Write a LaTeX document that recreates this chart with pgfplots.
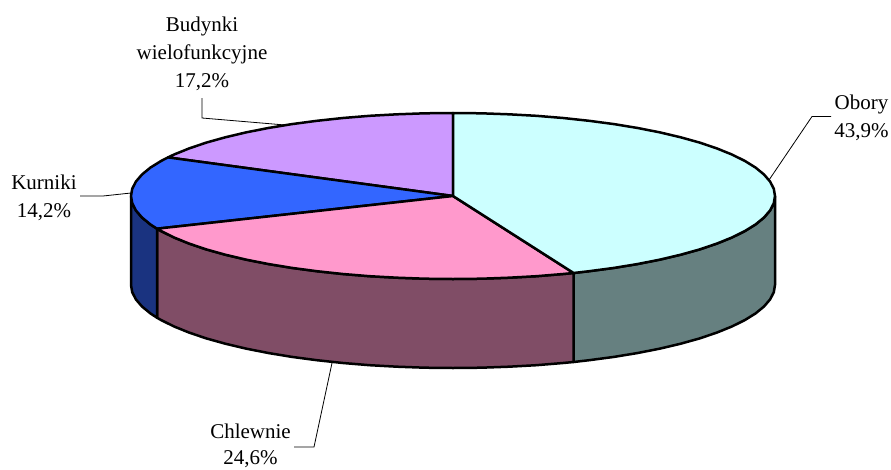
\documentclass[border=0pt]{standalone}
\usepackage{fontspec}
\setmainfont{Liberation Serif}
\usepackage{pgfplots}
\pgfplotsset{compat=1.18}
\definecolor{oboT}{HTML}{CCFFFF}
\definecolor{oboS}{HTML}{668080}
\definecolor{chlT}{HTML}{FF99CC}
\definecolor{chlS}{HTML}{804D66}
\definecolor{kurT}{HTML}{3366FF}
\definecolor{kurS}{HTML}{1A3380}
\definecolor{budT}{HTML}{CC99FF}
\tikzset{slice/.style={draw=black,line width=2.5pt,line join=round},
 lead/.style={draw=black,line width=0.8pt},
 lab/.style={font=\fontsize{21}{21}\selectfont,anchor=base,inner sep=0pt,text=black}}
\begin{document}
\begin{tikzpicture}
\path[use as bounding box] (0,0) rectangle (891pt,469pt);
\begin{axis}[at={(0,0)},anchor=south west,scale only axis,width=891pt,height=469pt,
 xmin=0,xmax=891,ymin=0,ymax=469,y dir=reverse,hide axis,clip=false]
% sides
\addplot[slice,mark=none,fill=oboS] coordinates {(775,196)(773.8,203.2)(770.1,210.4)(764,217.5)(755.6,224.4)(744.8,231.1)(731.9,237.5)(716.8,243.6)(699.7,249.4)(680.7,254.7)(660,259.6)(637.7,264)(614,267.9)(589.1,271.2)(573.6,273)
 (573.6,362)(589.1,360.2)(614,356.9)(637.7,353)(660,348.6)(680.7,343.7)(699.7,338.4)(716.8,332.6)(731.9,326.5)(744.8,320.1)(755.6,313.4)(764,306.5)(770.1,299.4)(773.8,292.2)(775,285)} -- cycle;
\addplot[slice,mark=none,fill=chlS] coordinates {(573.6,273)(563.1,274)(536.3,276.2)(508.9,277.7)(481.1,278.7)(453,279)(424.9,278.7)(397.1,277.7)(369.7,276.2)(342.9,274)(316.9,271.2)(292,267.9)(268.3,264)(246,259.6)(225.3,254.7)(206.3,249.4)(189.2,243.6)(174.1,237.5)(161.2,231.1)(157,228.7)
 (157,317.7)(161.2,320.1)(174.1,326.5)(189.2,332.6)(206.3,338.4)(225.3,343.7)(246,348.6)(268.3,353)(292,356.9)(316.9,360.2)(342.9,363)(369.7,365.2)(397.1,366.7)(424.9,367.7)(453,368)(481.1,367.7)(508.9,366.7)(536.3,365.2)(563.1,363)(573.6,362)} -- cycle;
\addplot[slice,mark=none,fill=kurS] coordinates {(157,228.7)(150.4,224.4)(142,217.5)(135.9,210.4)(132.2,203.2)(131,196)
 (131,285)(132.2,292.2)(135.9,299.4)(142,306.5)(150.4,313.4)(157,317.7)} -- cycle;
% tops
\addplot[slice,mark=none,fill=budT] coordinates {(453,196)(168,157.4)(174.1,154.5)(189.2,148.4)(206.3,142.6)(225.3,137.3)(246,132.4)(268.3,128)(292,124.1)(316.9,120.8)(342.9,118)(369.7,115.8)(397.1,114.3)(424.9,113.3)(453,113)} -- cycle;
\addplot[slice,mark=none,fill=kurT] coordinates {(453,196)(157,228.7)(150.4,224.4)(142,217.5)(135.9,210.4)(132.2,203.2)(131,196)(132.2,188.8)(135.9,181.6)(142,174.5)(150.4,167.6)(161.2,160.9)(168,157.4)} -- cycle;
\addplot[slice,mark=none,fill=chlT] coordinates {(453,196)(573.6,273)(563.1,274)(536.3,276.2)(508.9,277.7)(481.1,278.7)(453,279)(424.9,278.7)(397.1,277.7)(369.7,276.2)(342.9,274)(316.9,271.2)(292,267.9)(268.3,264)(246,259.6)(225.3,254.7)(206.3,249.4)(189.2,243.6)(174.1,237.5)(161.2,231.1)(157,228.7)} -- cycle;
\addplot[slice,mark=none,fill=oboT] coordinates {(453,196)(453,113)(481.1,113.3)(508.9,114.3)(536.3,115.8)(563.1,118)(589.1,120.8)(614,124.1)(637.7,128)(660,132.4)(680.7,137.3)(699.7,142.6)(716.8,148.4)(731.9,154.5)(744.8,160.9)(755.6,167.6)(764,174.5)(770.1,181.6)(773.8,188.8)(775,196)(773.8,203.2)(770.1,210.4)(764,217.5)(755.6,224.4)(744.8,231.1)(731.9,237.5)(716.8,243.6)(699.7,249.4)(680.7,254.7)(660,259.6)(637.7,264)(614,267.9)(589.1,271.2)(573.6,273)} -- cycle;
% leaders
\addplot[lead,mark=none] coordinates {(202,98)(202,118)(285,125)};
\addplot[lead,mark=none] coordinates {(80,196)(103,196)(131,193)};
\addplot[lead,mark=none] coordinates {(831,116.5)(812,116.5)(769,180)};
\addplot[lead,mark=none] coordinates {(294,447)(314,447)(332,363)};
% labels
\node[lab] at (axis cs:202,31) {Budynki};
\node[lab] at (axis cs:202,59) {wielofunkcyjne};
\node[lab] at (axis cs:202,87) {17,2\%};
\node[lab] at (axis cs:44,189) {Kurniki};
\node[lab] at (axis cs:44,217) {14,2\%};
\node[lab] at (axis cs:861.5,109) {Obory};
\node[lab] at (axis cs:861.5,137) {43,9\%};
\node[lab] at (axis cs:250.5,438) {Chlewnie};
\node[lab] at (axis cs:250.5,464) {24,6\%};
\end{axis}
\end{tikzpicture}
\end{document}
